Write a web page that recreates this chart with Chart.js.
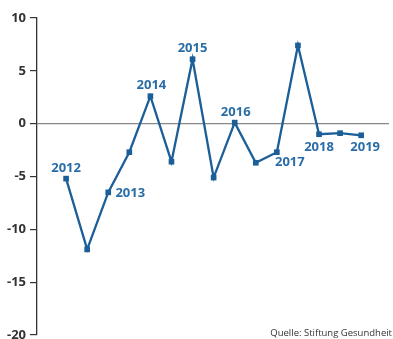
<!DOCTYPE html>
<html>
<head>
<meta charset="utf-8">
<script src="https://cdn.jsdelivr.net/npm/chart.js@4/dist/chart.umd.min.js"></script>
<style>
  html, body { margin: 0; padding: 0; background: #fff; }
  #wrap { width: 393px; height: 339px; position: relative; }
</style>
</head>
<body>
<div id="wrap"><canvas id="chart"></canvas></div>
<script>
// half-year steps, 2012 .. 2019
var periods = [2012, 2012.5, 2013, 2013.5, 2014, 2014.5, 2015, 2015.5,
               2016, 2016.5, 2017, 2017.5, 2018, 2018.5, 2019];
var values = [-5.2, -11.9, -6.5, -2.7, 2.6, -3.6, 6.1, -5.1,
              0.1, -3.7, -2.7, 7.4, -1.0, -0.9, -1.1];
var yearLabels = ["2012", "", "2013", "", "2014", "", "2015", "",
                  "2016", "", "2017", "", "2018", "", "2019"];
var yTicks = [10, 5, 0, -5, -10, -15, -20];
var source = "Quelle: Stiftung Gesundheit";

// where each year label sits relative to its point (dx, dy)
var labelOffsets = {
  0: [0, -10], 2: [22, 1], 4: [1, -11], 6: [0, -11],
  8: [1, -10], 10: [13, 10], 12: [0, 13], 14: [4, 12]
};

var blue = "#1b5e98";

var yearLabelPlugin = {
  id: "yearLabels",
  afterDatasetsDraw: function(chart) {
    var ctx = chart.ctx;
    var meta = chart.getDatasetMeta(0);
    ctx.save();
    ctx.font = "bold 13px 'Open Sans', sans-serif";
    ctx.fillStyle = "#2a6da6";
    ctx.textAlign = "center";
    ctx.textBaseline = "middle";
    yearLabels.forEach(function(txt, i) {
      if (!txt) return;
      var p = meta.data[i];
      var off = labelOffsets[i] || [0, -10];
      ctx.fillText(txt, p.x + off[0], p.y + off[1]);
    });
    ctx.restore();
  }
};

var sourcePlugin = {
  id: "source",
  afterDraw: function(chart) {
    var ctx = chart.ctx;
    ctx.save();
    ctx.font = "9.5px 'Open Sans', sans-serif";
    ctx.fillStyle = "#333";
    ctx.textAlign = "right";
    ctx.textBaseline = "middle";
    ctx.fillText(source, 392, 333);
    ctx.restore();
  }
};

new Chart(document.getElementById("chart"), {
  type: "line",
  data: {
    datasets: [{
      data: periods.map(function(p, i) { return { x: p, y: values[i] }; }),
      borderColor: blue,
      backgroundColor: blue,
      borderWidth: 2.3,
      pointStyle: "rect",
      pointRadius: 4,
      pointBorderWidth: 0,
      tension: 0
    }]
  },
  options: {
    responsive: true,
    maintainAspectRatio: false,
    animation: false,
    layout: { padding: { top: 18, right: 0, bottom: 1, left: 0 } },
    plugins: {
      legend: { display: false },
      tooltip: { enabled: false }
    },
    scales: {
      x: {
        type: "linear",
        display: false,
        min: 2011.31,
        max: 2019.66
      },
      y: {
        min: -20,
        max: 10,
        afterBuildTicks: function(s) {
          s.ticks = yTicks.map(function(v) { return { value: v }; });
        },
        afterFit: function(s) {
          s.width = 37;
          s.paddingTop = 0;
          s.paddingBottom = 0;
        },
        border: { display: true, color: "#333", width: 1.3 },
        grid: {
          color: function(c) { return c.tick && c.tick.value === 0 ? "#888" : "transparent"; },
          tickColor: "#333",
          tickLength: 7,
          lineWidth: 1.2
        },
        ticks: {
          color: "#333",
          padding: 4,
          font: { family: "'Open Sans', sans-serif", size: 13, weight: "bold" }
        }
      }
    }
  },
  plugins: [yearLabelPlugin, sourcePlugin]
});
</script>
</body>
</html>
